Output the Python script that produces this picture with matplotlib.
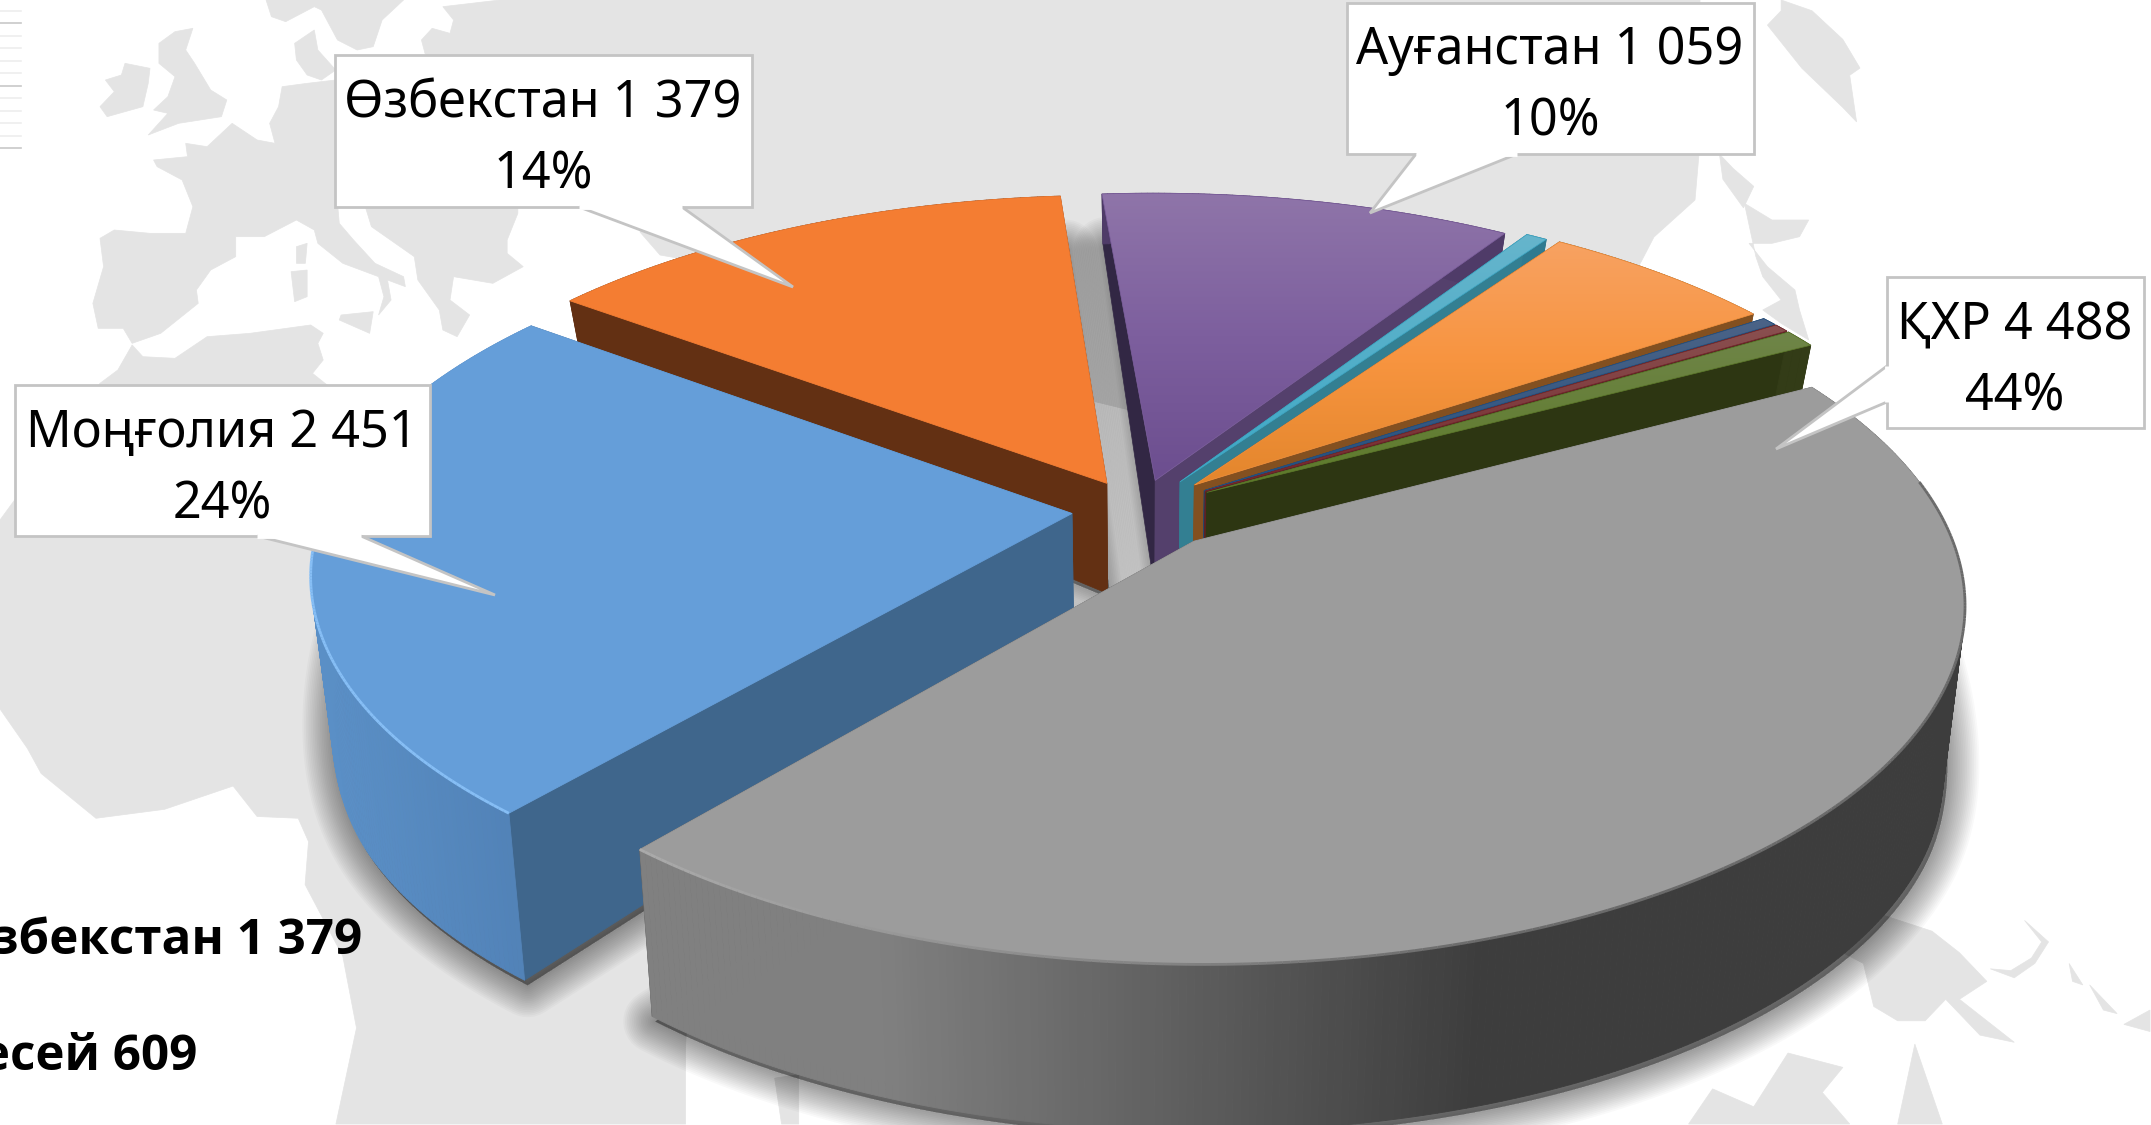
import numpy as np
import matplotlib
matplotlib.use("Agg")
import matplotlib.pyplot as plt
from matplotlib.patches import Polygon
from matplotlib.collections import PolyCollection, LineCollection
from matplotlib.colors import to_rgb

plt.rcParams['font.family'] = ['Noto Sans', 'DejaVu Sans']

# ---------- data (clockwise from the first slice) ----------
names  = ['ҚХР', 'Моңғолия', 'Өзбекстан', 'Ауғанстан', 'Other A', 'Ресей', 'Other B', 'Other C', 'Other D']
values = [4488, 2451, 1379, 1059, 55, 609, 40, 40, 85]
value_labels = ['4 488', '2 451', '1 379', '1 059', '', '609', '', '', '']
pct_labels = ['44%', '24%', '14%', '10%', '', '', '', '', '']

# ---------- style ----------
explode = [.115, .09, .09, .09, .1, .105, .105, .105, .105]
top_cols = [['#9c9c9c'], ['#659ed9'], ['#f47d32'],
            ['#8f75a9', '#7d5f9e', '#6c4e8f'], ['#66b5cc', '#3ea8c6'],
            ['#f8a262', '#f7943f', '#e3862c'], ['#4b6387', '#24507f'],
            ['#8a5050', '#74282c'], ['#6f8548', '#5d7a2a']]
wall_cols = [('#808080', '#3d3d3d'), ('#5a8fc6', '#5080b5'), ('#633013', '#633013'),
             ('#4f3b68', '#4f3b68'), ('#2f7a90', '#2f7a90'), ('#835020', '#835020'),
             ('#2a4a70', '#2a4a70'), ('#5a2226', '#5a2226'), ('#333c17', '#333c17')]
start_wall = ['#3d3d3d', '#3f668c', '#633013', '#322744', '#2f7a90', '#835020', '#1f3f66', '#5a1f22', '#333c17']
end_wall   = ['#3d3d3d', '#3f668c', '#633013', '#54406c', '#337f92', '#835020', '#24476e', '#5e2024', '#2d3612']
rim_cols = [('#aaaaaa', '#6a6a6a'), ('#86bef5', '#7ab4f0'), None, None, None, None, None, None, None]
paint_order = [2, 3, 4, 5, 6, 7, 8, 1, 0]
LAND = '#e4e4e4'

W, H = 2151, 1125
fig = plt.figure(figsize=(W/100, H/100), dpi=100, facecolor='white')
ax = fig.add_axes([0, 0, 1, 1])
ax.set_axis_off()

# ---------- world-map backdrop, traced by eye ----------
def z1(p): return [(x/1.4586, y/2.79) for x, y in p]
def z2(p): return [(1075+x/1.4586, y/2.79) for x, y in p]
def z3(p): return [(x/1.4586, 562+y/2.79) for x, y in p]
def z4(p): return [(1075+x/1.4586, 562+y/2.79) for x, y in p]
def z5(p): return [(1120+x/2.178, 200+y/3) for x, y in p]
def z7(p): return [(x/2.8, y/3) for x, y in p]

land = [
 z7([(745,0),(760,50),(800,65),(880,20),(900,30),(945,120),(1000,150),(1045,140),(1070,60),(1130,0)]),
 z7([(540,85),(490,95),(445,130),(445,190),(490,230),(470,290),(430,330),(470,340),(415,405),(500,370),(620,350),(635,300),(590,270),(545,190),(520,150)]),
 z7([(350,190),(420,205),(415,250),(400,320),(300,350),(280,320),(320,275),(295,240),(340,225)]),
 z7([(825,130),(880,90),(890,150),(940,210),(900,240),(860,225),(830,180)]),
 z7([(1000,300),(940,240),(860,250),(790,260),(780,320),(755,370),(770,430),(720,420),(650,370),(620,400),
     (580,440),(520,430),(525,470),(430,480),(440,500),(510,540),(540,620),(520,700),(420,700),(320,690),
     (280,715),(290,800),(260,910),(275,985),(345,985),(370,1030),(450,1000),(555,910),(550,870),(590,810),
     (660,770),(660,710),(740,710),(830,660),(880,690),(890,730),(960,790),(1060,830),(1075,890),(1060,945),
     (1095,900),(1085,840),(1135,860),(1130,830),(1050,790),(990,720),(950,670),(945,610),(1020,610),(1040,680),
     (1160,770),(1170,840),(1230,930),(1240,990),(1280,1010),(1315,945),(1260,900),(1270,830),(1380,850),(1465,800),
     (1420,760),(1420,720),(1450,640),(1450,600)]),
 z7([(955,945),(1045,935),(1035,1000),(950,960)]),
 z7([(830,740),(860,730),(855,790),(830,790)]),
 z7([(815,815),(860,810),(860,890),(825,905)]),
 [(425,53)] + z7([(1190,160),(1180,120),(1210,85),(1260,100),(1270,60),(1240,20),(1400,0)]) +
 [(1700,0),(1699,154),(1695,200),(1654,237),(1641,262),(1500,500),(800,330),(700,262),(660,255),(640,232),(660,200),(500,150)],
 z2([(1030,0),(1075,30),(1120,110),(1145,190),(1130,210),(1140,340),(1120,300),(1060,190),(1010,70),(1030,30)]),
 z2([(940,430),(960,470),(990,520),(975,580),(945,500)]),
 z5([(1360,10),(1420,60),(1500,60),(1480,110),(1420,130),(1370,130),(1410,200),(1470,270),(1480,330),(1500,420),(1440,370),(1400,330),(1440,300),(1400,230),(1385,170)]),
 z7([(280,1150),(330,1110),(370,1035),(400,1070),(490,1075),(580,1010),(700,1000),(870,975),(905,1000),(890,1030),(905,1080),(875,1120),(910,1150)]) +
 [(420,450),(700,800)] + z3([(1000,1350),(1000,1568),(490,1568),(520,1300),(500,1100),(445,900),(450,780),(435,715),(375,710),(340,625),(240,690),(140,715),(60,590),(40,520),(0,410)]) + [(0,520)],
 z3([(1130,1440),(1165,1430),(1165,1568),(1140,1568)]),
 z4([(1170,980),(1250,1030),(1290,1090),(1330,1170),(1290,1220),(1370,1340),(1320,1320),(1270,1220),(1240,1280),(1200,1280),(1165,1240),(1150,1120),(1120,1090)]),
 z4([(1335,1135),(1370,1160),(1400,1120),(1420,1060),(1385,1000),(1410,1060),(1395,1105),(1365,1140)]),
 z4([(1450,1120),(1470,1180),(1455,1170)]),
 z4([(1480,1180),(1520,1260),(1500,1250)]),
 z4([(1530,1290),(1568,1250),(1568,1310)]),
 z4([(895,1568),(930,1470),(990,1520),(1040,1370),(1120,1410),(1090,1480),(1130,1568)]),
 z4([(1225,1345),(1265,1568),(1200,1568)]),
]
for p in land:
    ax.add_patch(Polygon(p, closed=True, fc=LAND, ec=LAND, lw=.5, zorder=1))

# faint ruled lines at the top-left edge
for i, yy in enumerate(np.arange(12)*12.45 + 11):
    ax.plot([0, 21], [yy, yy], color='#c8c8c8' if i in (1, 6, 11) else '#eeeeee', lw=1.2, zorder=1)

# cut-off bold side list
for yy, xx, s in [(941, 362, f'{names[2]} {value_labels[2]}'), (1058, 197, f'{names[5]} {value_labels[5]}')]:
    ax.text(xx, yy, s, ha='right', va='center', fontsize=35.5, fontweight='bold',
            family=['Open Sans', 'DejaVu Sans'], color='black', zorder=1.5, clip_on=True)

# ---------- 3-D pie projection ----------
CX, CY, A, B, K = 1139., 510., 748., 343., .163
SHRINK = .975
THETA0 = 62.

def height(y):
    if y >= 0:
        return 115 - 60*y
    return 115 + 52*np.sin(min(-y/.5, 1)*np.pi/2)

def proj(x, y):
    d = 1 + K*y
    return CX + A*x/d, CY - B*y/d

def proj_bottom(x, y):
    u, v = proj(x, y)
    hh = np.vectorize(height)(y)
    return CX + (u-CX)*SHRINK, v + hh

vals = np.array(values, float)
edges = THETA0 + 360*np.concatenate([[0], np.cumsum(vals)])/vals.sum()

def slice_geom(i):
    t = np.radians(np.linspace(edges[i], edges[i+1], max(int(edges[i+1]-edges[i])*2, 4)))
    mid = np.radians((edges[i]+edges[i+1])/2)
    ox, oy = explode[i]*np.sin(mid), explode[i]*np.cos(mid)
    return np.sin(t)+ox, np.cos(t)+oy, ox, oy

def lerp(c1, c2, f):
    a, b = np.array(to_rgb(c1)), np.array(to_rgb(c2))
    return a + (b-a)*f

# soft shadow
for i in range(len(vals)):
    x, y, ox, oy = slice_geom(i)
    bu, bv = proj_bottom(x, y)
    au, av = proj_bottom(ox, oy)
    pts = np.r_[[[au, av]], np.c_[bu, bv]] + np.array([3, 5])
    for w in np.linspace(64, 4, 18):
        ax.add_patch(Polygon(pts, closed=True, fc=(0, 0, 0, .022), ec=(0, 0, 0, .022), lw=w*.72,
                             joinstyle='round', zorder=2))

z = 3.0
for i in paint_order:
    x, y, ox, oy = slice_geom(i)
    tu, tv = proj(x, y)
    bu, bv = proj_bottom(x, y)
    au, av = proj(ox, oy)
    cu, cv = proj_bottom(ox, oy)
    # radial walls
    ax.add_patch(Polygon([(au, av), (tu[0], tv[0]), (bu[0], bv[0]), (cu, cv)], fc=start_wall[i], ec=start_wall[i], lw=.5, zorder=z))
    ax.add_patch(Polygon([(au, av), (tu[-1], tv[-1]), (bu[-1], bv[-1]), (cu, cv)], fc=end_wall[i], ec=end_wall[i], lw=.5, zorder=z))
    z += .1
    # outer wall, shaded along the image x
    quads, cols = [], []
    lo, hi = (880, 1486) if i == 0 else (bu.min(), bu.max())
    for j in range(len(tu)-1):
        quads.append([(tu[j], tv[j]), (tu[j+1], tv[j+1]), (bu[j+1], bv[j+1]), (bu[j], bv[j])])
        f = np.clip((tu[j]-lo)/max(hi-lo, 1), 0, 1)
        cols.append(lerp(wall_cols[i][0], wall_cols[i][1], f))
    ax.add_collection(PolyCollection(quads, facecolors=cols, edgecolors=cols, linewidths=.6, zorder=z))
    z += .1
    # top face
    poly = np.r_[[[au, av]], np.c_[tu, tv]]
    stops = top_cols[i]
    if len(stops) == 1:
        ax.add_patch(Polygon(poly, fc=stops[0], ec=stops[0], lw=.6, zorder=z))
    else:
        n = 128
        fr = np.linspace(0, 1, n)
        pos = np.linspace(0, 1, len(stops))
        rgb = np.array([np.interp(fr, pos, [to_rgb(c)[k] for c in stops]) for k in range(3)]).T[:, None, :]
        y0, y1 = poly[:, 1].min(), poly[:, 1].max()
        im = ax.imshow(rgb, extent=[poly[:, 0].min(), poly[:, 0].max(), y1, y0], aspect='auto', zorder=z, interpolation='bilinear')
        clip = Polygon(poly, transform=ax.transData, fc='none', ec='none')
        ax.add_patch(clip)
        im.set_clip_path(clip)
        ax.add_patch(Polygon(poly, fc='none', ec=stops[len(stops)//2], lw=.5, zorder=z))
    z += .1
    if rim_cols[i] is not None:
        segs, cs = [], []
        for j in range(len(tu)-1):
            if tv[j] < av - 60:
                continue
            segs.append([(tu[j], tv[j]), (tu[j+1], tv[j+1])])
            cs.append(lerp(rim_cols[i][0], rim_cols[i][1], np.clip((tu[j]-650)/850, 0, 1)))
        ax.add_collection(LineCollection(segs, colors=cs, linewidths=2.0, zorder=z))
        z += .1

# ---------- callouts ----------
def callout(idx, box, ptr, cx, y1, y2, fs=36.3):
    x0, y0, x3, y3 = box
    ax.add_patch(Polygon([(x0, y0), (x3, y0), (x3, y3), (x0, y3)], fc='white', ec='#c4c4c4', lw=2, zorder=20))
    ax.add_patch(Polygon(ptr, closed=False, fc='white', ec='#c4c4c4', lw=2, zorder=20.5))
    a, b = ptr[0], ptr[-1]
    ax.plot([a[0], b[0]], [a[1], b[1]], color='white', lw=3.5, zorder=20.6, solid_capstyle='butt')
    ax.text(cx, y1, f'{names[idx]} {value_labels[idx]}', ha='center', va='center', fontsize=fs, color='black', zorder=21)
    ax.text(cx, y2, pct_labels[idx], ha='center', va='center', fontsize=fs, color='black', zorder=21)

callout(2, (335, 55, 752, 207), [(579, 207), (793, 287), (682, 207)], 543, 104, 175)
callout(1, (15, 385, 430, 536), [(257, 536), (495, 595), (361, 536)], 222, 434, 505)
callout(3, (1347, 3, 1754, 154), [(1416, 154), (1370, 213), (1517, 154)], 1550, 51, 122)
callout(0, (1887, 277, 2144, 428), [(1887, 366), (1776, 449), (1887, 402)], 2015, 326, 397)

ax.set_xlim(0, W)
ax.set_ylim(H, 0)
fig.savefig('out.png', dpi=100, facecolor='white')
